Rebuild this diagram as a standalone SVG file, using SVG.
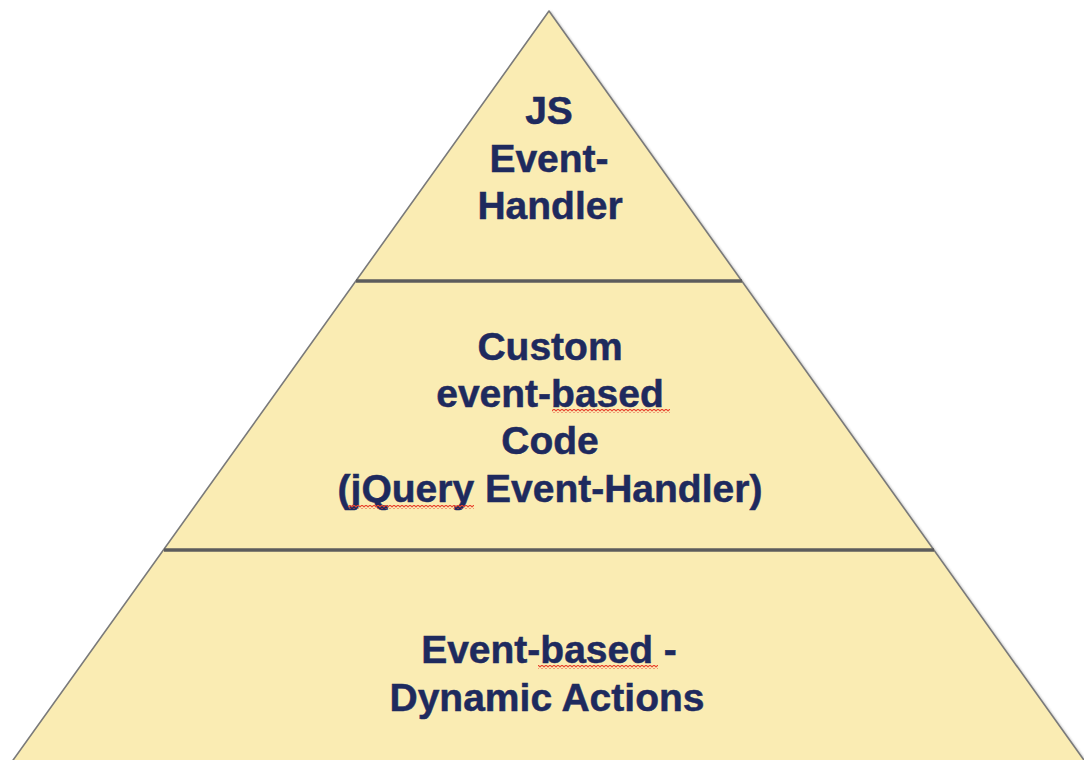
<svg xmlns="http://www.w3.org/2000/svg" width="1084" height="760" viewBox="0 0 1084 760">
  <style>
    .lbl { font-family: "Liberation Sans", Arial, sans-serif; font-weight: bold; font-size: 39px; fill: #1E2A5E; stroke: #1E2A5E; stroke-width: 0.5; text-anchor: middle; }
    .tier { fill: #FAECB3; stroke: #7a7a7a; stroke-width: 1.6; stroke-linejoin: round; }
    .sep { stroke: #5c5c5c; stroke-width: 3.5; }
    .sepShadow { stroke: #b8ae86; stroke-width: 3; opacity: 0.6; }
    .squiggle { fill: url(#zigzag); }
  </style>
  <defs>
    <filter id="soft" x="-5%" y="-5%" width="110%" height="110%">
      <feGaussianBlur stdDeviation="1.2"/>
    </filter>
    <pattern id="zigzag" patternUnits="userSpaceOnUse" width="4" height="4">
      <path d="M0,3.2 L2,0.8 L4,3.2" fill="none" stroke="#E8452F" stroke-width="1.1"/>
    </pattern>
  </defs>

  <rect width="1084" height="760" fill="#ffffff"/>

  <!-- pyramid outline shadow -->
  <polygon points="549,11 1091,770 6,770" fill="none" stroke="#999" stroke-width="2" transform="translate(1.5,1.5)" filter="url(#soft)" opacity="0.6"/>

  <!-- pyramid body; base runs past the bottom edge of the canvas -->
  <g id="pyramid">
    <polygon class="tier" points="549,11 1091,770 6,770"/>
  </g>

  <!-- tier dividers -->
  <g id="dividers">
    <line class="sepShadow" x1="357" y1="284" x2="742" y2="284" filter="url(#soft)"/>
    <line class="sep" x1="356" y1="281" x2="742" y2="281"/>
    <line class="sepShadow" x1="164" y1="553" x2="934" y2="553" filter="url(#soft)"/>
    <line class="sep" x1="164" y1="550" x2="934" y2="550"/>
  </g>

  <!-- top tier -->
  <g id="tier-top">
    <text class="lbl" x="549" y="124">JS</text>
    <text class="lbl" x="549" y="172">Event-</text>
    <text class="lbl" x="550" y="219">Handler</text>
  </g>

  <!-- middle tier -->
  <g id="tier-middle">
    <text class="lbl" x="550" y="360">Custom</text>
    <text class="lbl" x="550" y="407">event-based</text>
    <text class="lbl" x="550" y="454">Code</text>
    <text class="lbl" x="550" y="502">(jQuery Event-Handler)</text>
    <rect class="squiggle" x="552" y="409" width="118" height="4"/>
    <rect class="squiggle" x="348" y="505" width="126" height="4"/>
  </g>

  <!-- bottom tier -->
  <g id="tier-bottom">
    <text class="lbl" x="549" y="663">Event-based -</text>
    <text class="lbl" x="547" y="711">Dynamic Actions</text>
    <rect class="squiggle" x="538" y="665" width="120" height="4"/>
  </g>
</svg>
